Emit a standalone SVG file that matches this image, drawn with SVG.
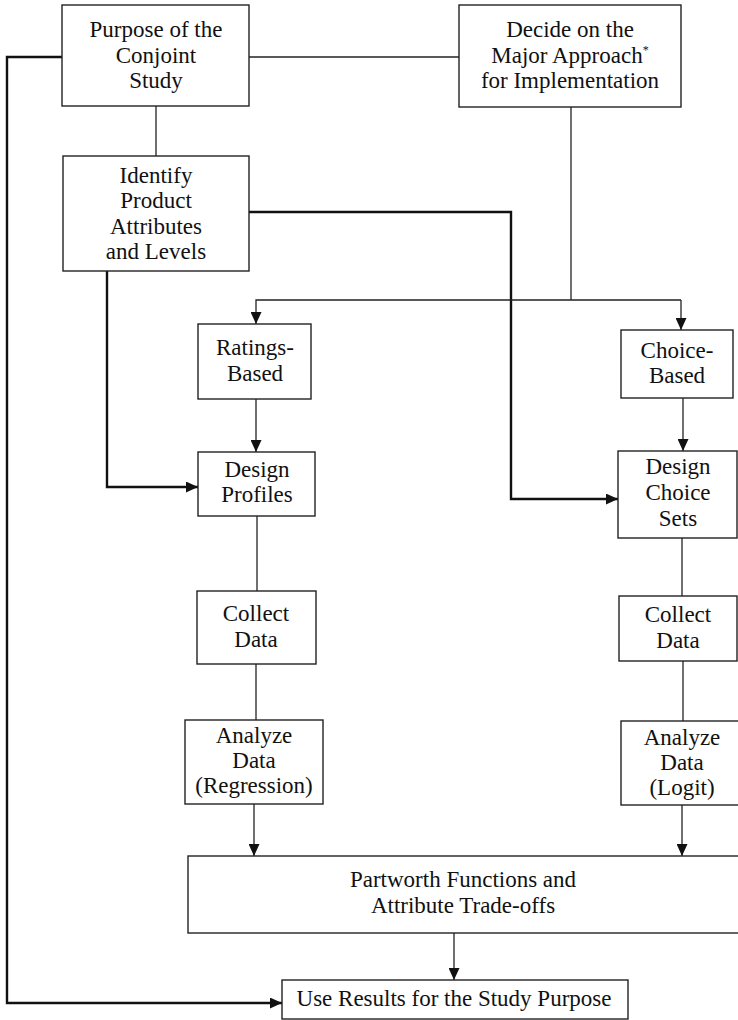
<svg xmlns="http://www.w3.org/2000/svg" width="738" height="1020" viewBox="0 0 738 1020">
<style>
.box{fill:#fff;stroke:#222;stroke-width:1.4}
.t{font-family:"Liberation Serif","Times New Roman",serif;font-size:23px;fill:#111;text-anchor:middle}
.c{fill:none;stroke:#222;stroke-width:1.3}
.k{fill:none;stroke:#111;stroke-width:2.4}
</style>
<defs>
<marker id="ah" markerUnits="userSpaceOnUse" markerWidth="12" markerHeight="11" refX="12" refY="5.5" orient="auto" viewBox="0 0 12 11">
<path d="M0,0 L12,5.5 L0,11 z" fill="#111"/>
</marker>
</defs>
<rect width="738" height="1020" fill="#fff"/>
<g id="connectors">
<line class="c" x1="249" y1="57" x2="459" y2="57"/>
<line class="c" x1="156" y1="106" x2="156" y2="156"/>
<polyline class="k" points="62,57 7,57 7,1003 282,1003" marker-end="url(#ah)"/>
<polyline class="k" points="107,271 107,487 198,487" marker-end="url(#ah)"/>
<polyline class="k" points="249,212 511,212 511,499 618,499" marker-end="url(#ah)"/>
<line class="c" x1="571" y1="107" x2="571" y2="300"/>
<polyline class="c" points="681,300 256,300 256,324" marker-end="url(#ah)"/>
<line class="c" x1="681" y1="300" x2="681" y2="330" marker-end="url(#ah)"/>
<line class="c" x1="256" y1="399" x2="256" y2="452" marker-end="url(#ah)"/>
<line class="c" x1="683" y1="398" x2="683" y2="451" marker-end="url(#ah)"/>
<line class="c" x1="257" y1="516" x2="257" y2="591"/>
<line class="c" x1="256" y1="664" x2="256" y2="720"/>
<line class="c" x1="254" y1="804" x2="254" y2="856" marker-end="url(#ah)"/>
<line class="c" x1="682" y1="538" x2="682" y2="596"/>
<line class="c" x1="683" y1="661" x2="683" y2="721"/>
<line class="c" x1="682" y1="805" x2="682" y2="856" marker-end="url(#ah)"/>
<line class="c" x1="454" y1="933" x2="454" y2="980" marker-end="url(#ah)"/>
</g>
<g id="purpose">
<rect class="box" x="62" y="5" width="187" height="101"/>
<text class="t" x="156" y="37">Purpose of the</text>
<text class="t" x="156" y="63">Conjoint</text>
<text class="t" x="156" y="88">Study</text>
</g>
<g id="decide">
<rect class="box" x="459" y="5" width="222" height="102"/>
<text class="t" x="570" y="37">Decide on the</text>
<text class="t" x="570" y="63">Major Approach<tspan font-size="12" dy="-9">*</tspan></text>
<text class="t" x="570" y="88">for Implementation</text>
</g>
<g id="identify">
<rect class="box" x="63" y="156" width="186" height="115"/>
<text class="t" x="156" y="183">Identify</text>
<text class="t" x="156" y="208">Product</text>
<text class="t" x="156" y="234">Attributes</text>
<text class="t" x="156" y="259">and Levels</text>
</g>
<g id="ratings">
<rect class="box" x="198" y="324" width="113" height="75"/>
<text class="t" x="255" y="355">Ratings-</text>
<text class="t" x="255" y="381">Based</text>
</g>
<g id="choice">
<rect class="box" x="621" y="330" width="112" height="68"/>
<text class="t" x="677" y="358">Choice-</text>
<text class="t" x="677" y="383">Based</text>
</g>
<g id="design-profiles">
<rect class="box" x="198" y="452" width="117" height="64"/>
<text class="t" x="257" y="477">Design</text>
<text class="t" x="257" y="502">Profiles</text>
</g>
<g id="design-choice-sets">
<rect class="box" x="618" y="451" width="119" height="87"/>
<text class="t" x="678" y="474">Design</text>
<text class="t" x="678" y="500">Choice</text>
<text class="t" x="678" y="526">Sets</text>
</g>
<g id="collect-left">
<rect class="box" x="197" y="591" width="119" height="73"/>
<text class="t" x="256" y="621">Collect</text>
<text class="t" x="256" y="647">Data</text>
</g>
<g id="collect-right">
<rect class="box" x="619" y="596" width="118" height="65"/>
<text class="t" x="678" y="622">Collect</text>
<text class="t" x="678" y="648">Data</text>
</g>
<g id="analyze-left">
<rect class="box" x="185" y="720" width="138" height="84"/>
<text class="t" x="254" y="743">Analyze</text>
<text class="t" x="254" y="768">Data</text>
<text class="t" x="254" y="793">(Regression)</text>
</g>
<g id="analyze-right">
<rect class="box" x="621" y="721" width="122" height="84"/>
<text class="t" x="682" y="745">Analyze</text>
<text class="t" x="682" y="770">Data</text>
<text class="t" x="682" y="795">(Logit)</text>
</g>
<g id="partworth">
<rect class="box" x="188" y="856" width="556" height="77"/>
<text class="t" x="463" y="887">Partworth Functions and</text>
<text class="t" x="463" y="913">Attribute Trade-offs</text>
</g>
<g id="use-results">
<rect class="box" x="282" y="980" width="346" height="39"/>
<text class="t" x="454" y="1006">Use Results for the Study Purpose</text>
</g>
</svg>
